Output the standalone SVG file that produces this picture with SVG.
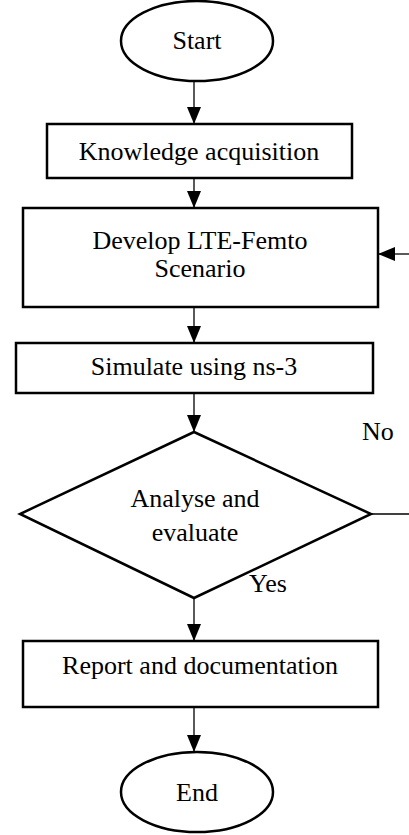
<svg xmlns="http://www.w3.org/2000/svg" width="409" height="835" viewBox="0 0 409 835">
<style>
.shape{fill:#fff;stroke:#000;stroke-width:2.5}
.conn{stroke:#000;stroke-width:1.3;fill:none}
text{font-family:"Liberation Serif","Times New Roman",serif;font-size:26px;fill:#000;text-anchor:middle}
.lbl{text-anchor:start}
</style>
<defs>
<marker id="ah" markerUnits="userSpaceOnUse" markerWidth="17" markerHeight="14" refX="17" refY="7" orient="auto">
<path d="M0,0 L17,7 L0,14 z" fill="#000"/>
</marker>
</defs>
<g id="connectors">
<line class="conn" x1="194" y1="81" x2="194" y2="124" marker-end="url(#ah)"/>
<line class="conn" x1="194" y1="178" x2="194" y2="208" marker-end="url(#ah)"/>
<line class="conn" x1="194" y1="307" x2="194" y2="343" marker-end="url(#ah)"/>
<line class="conn" x1="194" y1="393" x2="194" y2="432" marker-end="url(#ah)"/>
<line class="conn" x1="194" y1="598" x2="194" y2="641" marker-end="url(#ah)"/>
<line class="conn" x1="194" y1="707" x2="194" y2="752" marker-end="url(#ah)"/>
<line class="conn" x1="371" y1="514" x2="409" y2="514"/>
<line class="conn" x1="409" y1="254" x2="378" y2="254" marker-end="url(#ah)"/>
<text class="lbl" x="362" y="440">No</text>
<text class="lbl" x="249" y="592">Yes</text>
</g>
<g id="start">
<ellipse class="shape" cx="197" cy="41" rx="76" ry="40"/>
<text x="197" y="49">Start</text>
</g>
<g id="knowledge">
<rect class="shape" x="47" y="124" width="305" height="54"/>
<text x="199" y="160">Knowledge acquisition</text>
</g>
<g id="develop">
<rect class="shape" x="23" y="208" width="355" height="99"/>
<text x="200" y="249">Develop LTE-Femto</text>
<text x="200" y="277">Scenario</text>
</g>
<g id="simulate">
<rect class="shape" x="16" y="343" width="357" height="50"/>
<text x="194" y="375">Simulate using ns-3</text>
</g>
<g id="analyse">
<polygon class="shape" points="194,432 371,514 194,598 20,514"/>
<text x="195" y="507">Analyse and</text>
<text x="195" y="541">evaluate</text>
</g>
<g id="report">
<rect class="shape" x="23" y="641" width="355" height="66"/>
<text x="200" y="674">Report and documentation</text>
</g>
<g id="end">
<ellipse class="shape" cx="197" cy="792" rx="76" ry="40"/>
<text x="197" y="801">End</text>
</g>
</svg>
